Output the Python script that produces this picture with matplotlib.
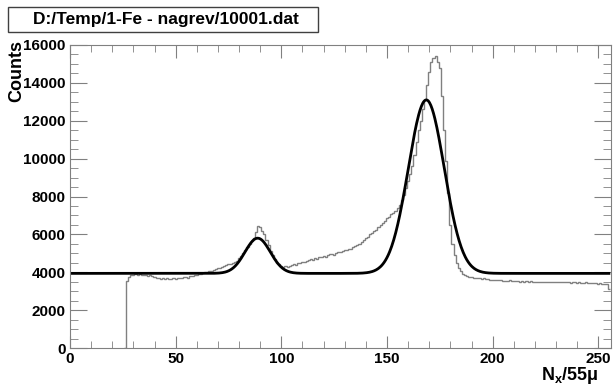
import numpy as np
import matplotlib
matplotlib.use("Agg")
import matplotlib.pyplot as plt
from matplotlib.patches import Rectangle
from matplotlib.ticker import MultipleLocator

plt.rcParams['font.family'] = ['Liberation Sans', 'DejaVu Sans']
plt.rcParams['font.weight'] = 'bold'
plt.rcParams['mathtext.fontset'] = 'custom'
plt.rcParams['mathtext.rm'] = 'Liberation Sans:bold'
plt.rcParams['mathtext.bf'] = 'Liberation Sans:bold'

title = "D:/Temp/1-Fe - nagrev/10001.dat"

# histogram: one count per channel, channels 26..255 (empty below 27)
first_channel = 26
counts = [
    0, 3560, 3760, 3850,
    3880, 3900, 3870, 3890, 3860, 3840, 3850, 3820, 3830, 3790,
    3760, 3720, 3700, 3660, 3680, 3650, 3690, 3660, 3640, 3670,
    3650, 3690, 3670, 3700, 3730, 3750, 3720, 3780, 3800, 3830,
    3860, 3900, 3920, 3960, 3990, 4030, 4060, 4040, 4110, 4150,
    4200, 4240, 4290, 4330, 4360, 4410, 4440, 4480, 4540, 4620,
    4730, 4850, 5000, 5170, 5350, 5480, 5650, 5800, 6150, 6420,
    6380, 6180, 6020, 5720, 5420, 5110, 4900, 4680, 4500, 4420,
    4340, 4290, 4310, 4300, 4350, 4370, 4420, 4400, 4480, 4510,
    4550, 4530, 4600, 4640, 4680, 4660, 4730, 4700, 4790, 4820,
    4850, 4830, 4900, 4940, 4960, 4920, 5000, 5050, 5080, 5120,
    5150, 5200, 5250, 5230, 5350, 5400, 5450, 5500, 5600, 5680,
    5790, 5860, 6000, 6080, 6200, 6230, 6400, 6480, 6600, 6700,
    6850, 6930, 7050, 7150, 7250, 7400, 7550, 7800, 8100, 8450,
    8800, 9200, 9600, 10200, 10900, 11500, 12000, 12600, 13100, 13900,
    14600, 15100, 15300, 15400, 15100, 14800, 13300, 11500, 9900, 8200,
    6500, 5500, 4900, 4500, 4250, 4050, 3920, 3850, 3800, 3760,
    3740, 3720, 3700, 3690, 3680, 3650, 3670, 3630, 3620, 3600,
    3610, 3590, 3570, 3600, 3580, 3550, 3560, 3540, 3570, 3550,
    3550, 3520, 3540, 3510, 3560, 3500, 3520, 3490, 3530, 3500,
    3510, 3490, 3500, 3480, 3510, 3470, 3500, 3480, 3490, 3460,
    3490, 3480, 3500, 3470, 3480, 3460, 3490, 3450, 3470, 3460,
    3440, 3470, 3450, 3430, 3460, 3420, 3440, 3430, 3410, 3420,
    3400, 3410, 3380, 3390, 3370, 3100,
]

# fit: constant background + two gaussians (amplitude, mean, sigma)
fit_background = 3940
fit_peaks = [(1860, 88.8, 6.0), (9160, 168.6, 8.5)]

fig = plt.figure(figsize=(6.14, 3.90), dpi=100)
ax = fig.add_axes([70 / 614, 42 / 390, 541 / 614, 303 / 390])

edges = np.arange(first_channel - 0.5, first_channel + len(counts))
ax.stairs(counts, edges, color="#808080", lw=1.0, baseline=None)

xf = np.linspace(0, 255, 800)
yf = np.full_like(xf, fit_background, dtype=float)
for a, m, s in fit_peaks:
    yf += a * np.exp(-0.5 * ((xf - m) / s) ** 2)
ax.plot(xf, yf, color="black", lw=2.0)

ax.set_xlim(0, 256)
ax.set_ylim(0, 16000)
ax.xaxis.set_major_locator(MultipleLocator(50))
ax.xaxis.set_minor_locator(MultipleLocator(10))
ax.yaxis.set_major_locator(MultipleLocator(2000))
ax.yaxis.set_minor_locator(MultipleLocator(500))
ax.tick_params(which="both", direction="in", top=True, right=True,
               color="#808080", labelsize=11, pad=3)
ax.tick_params(which="major", axis="x", length=9)
ax.tick_params(which="minor", axis="x", length=5)
ax.tick_params(which="major", axis="y", length=12)
ax.tick_params(which="minor", axis="y", length=6)
for sp in ax.spines.values():
    sp.set_color("#808080")
for lab in ax.get_xticklabels() + ax.get_yticklabels():
    lab.set_fontweight("bold")

fig.text(17 / 614, 1 - 40 / 390, "Counts", rotation=90, ha="center",
         va="top", fontsize=13, fontweight="bold")
fig.text(541 / 614, 1 - 375 / 390, r"N$_{\mathbf{x}}$/55μ", ha="left",
         va="center", fontsize=13, fontweight="bold")

fig.patches.append(Rectangle((8 / 614, 1 - 32 / 390), 310 / 614, 25 / 390,
                             transform=fig.transFigure, facecolor="white",
                             edgecolor="#404040", lw=1.0))
fig.text(166 / 614, 1 - 19.5 / 390, title, ha="center", va="center",
         fontsize=12.5, fontweight="bold")

fig.savefig("out.png", dpi=100)
